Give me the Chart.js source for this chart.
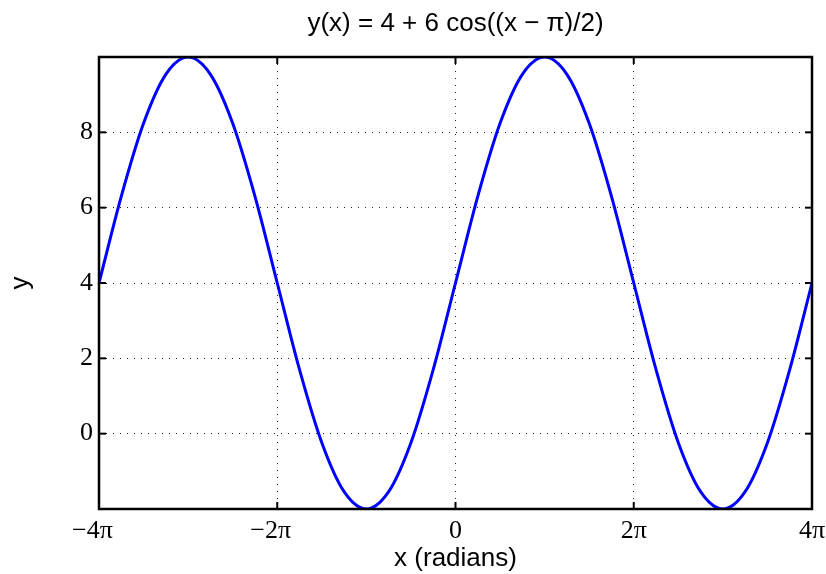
<!DOCTYPE html>
<html>
<head>
<meta charset="utf-8">
<script src="https://cdn.jsdelivr.net/npm/chart.js@4"></script>
<style>body{margin:0;background:#fff}</style>
</head>
<body>
<canvas id="chart" width="826" height="574"></canvas>
<script>
// x in units of pi, every pi/4
const xPi = [-4, -3.75, -3.5, -3.25, -3, -2.75, -2.5, -2.25, -2, -1.75, -1.5, -1.25, -1, -0.75, -0.5, -0.25,
  0, 0.25, 0.5, 0.75, 1, 1.25, 1.5, 1.75, 2, 2.25, 2.5, 2.75, 3, 3.25, 3.5, 3.75, 4]
const yVals = [4, 6.30, 8.24, 9.54, 10, 9.54, 8.24, 6.30, 4, 1.70, -0.24, -1.54, -2, -1.54, -0.24, 1.70,
  4, 6.30, 8.24, 9.54, 10, 9.54, 8.24, 6.30, 4, 1.70, -0.24, -1.54, -2, -1.54, -0.24, 1.70, 4]
const xTickVals = [-4, -2, 0, 2, 4]
// trailing en space so the number (not the minus) sits under the tick, as in the original
const xTickLabels = ['\u22124\u03c0\u2002', '\u22122\u03c0\u2002', '0', '2\u03c0', '4\u03c0']
const yTickVals = [0, 2, 4, 6, 8]

const sans = '"Liberation Sans", Arial, Helvetica, sans-serif'
const serif = '"Liberation Serif", "Times New Roman", serif'

// box round the plot plus inward tick marks (matlab style)
const frame = {
  id: 'frame',
  afterDatasetsDraw(chart) {
    const { ctx, chartArea: a, scales: { x, y } } = chart
    const line = (x1, y1, x2, y2) => { ctx.beginPath(); ctx.moveTo(x1, y1); ctx.lineTo(x2, y2); ctx.stroke() }
    ctx.save()
    ctx.strokeStyle = '#000'
    ctx.lineWidth = 2
    xTickVals.forEach(v => {
      const px = x.getPixelForValue(v)
      line(px, a.bottom, px, a.bottom - 7)
      line(px, a.top, px, a.top + 7)
    })
    yTickVals.forEach(v => {
      const py = y.getPixelForValue(v)
      line(a.left, py, a.left + 7, py)
      line(a.right, py, a.right - 7, py)
    })
    ctx.lineWidth = 2.5
    ctx.strokeRect(a.left, a.top, a.right - a.left, a.bottom - a.top)
    ctx.restore()
  }
}

new Chart(document.getElementById('chart'), {
  type: 'line',
  data: {
    datasets: [{
      data: xPi.map((x, i) => ({ x: x, y: yVals[i] })),
      borderColor: '#0000ff',
      borderWidth: 3,
      pointRadius: 0,
      fill: false,
      cubicInterpolationMode: 'monotone'
    }]
  },
  options: {
    responsive: false,
    animation: false,
    layout: { padding: { left: 0, right: 14, top: 0, bottom: 0 } },
    plugins: {
      legend: { display: false },
      tooltip: { enabled: false },
      title: {
        display: true,
        text: 'y(x) = 4 + 6 cos((x \u2212 \u03c0)/2)',
        fullSize: false,
        color: '#000',
        font: { family: sans, size: 26, weight: 'normal' },
        padding: { top: 8.5, bottom: 17.3 }
      }
    },
    scales: {
      x: {
        type: 'linear',
        min: -4,
        max: 4,
        afterBuildTicks: s => { s.ticks = xTickVals.map(v => ({ value: v })) },
        afterFit: s => { s.height = 65; s.paddingLeft = 0; s.paddingRight = 0 },
        ticks: {
          autoSkip: false,
          maxRotation: 0,
          padding: 7,
          color: '#000',
          font: { family: serif, size: 26 },
          callback: v => xTickLabels[xTickVals.indexOf(v)]
        },
        grid: { color: '#222', lineWidth: 1, drawTicks: false },
        border: { display: false, dash: [1, 6] },
        title: {
          display: true,
          text: 'x (radians)',
          color: '#000',
          font: { family: sans, size: 26 },
          padding: { top: 0, bottom: 0 }
        }
      },
      y: {
        min: -2,
        max: 10,
        afterBuildTicks: s => { s.ticks = yTickVals.map(v => ({ value: v })) },
        afterFit: s => { s.width = 99; s.paddingTop = 0; s.paddingBottom = 0 },
        ticks: {
          padding: 6,
          color: '#000',
          font: { family: serif, size: 26 }
        },
        grid: { color: '#222', lineWidth: 1, drawTicks: false },
        border: { display: false, dash: [1, 6] },
        title: {
          display: true,
          text: 'y',
          color: '#000',
          font: { family: sans, size: 26 },
          padding: { top: 5.4, bottom: 0 }
        }
      }
    }
  },
  plugins: [frame]
})
</script>
</body>
</html>
